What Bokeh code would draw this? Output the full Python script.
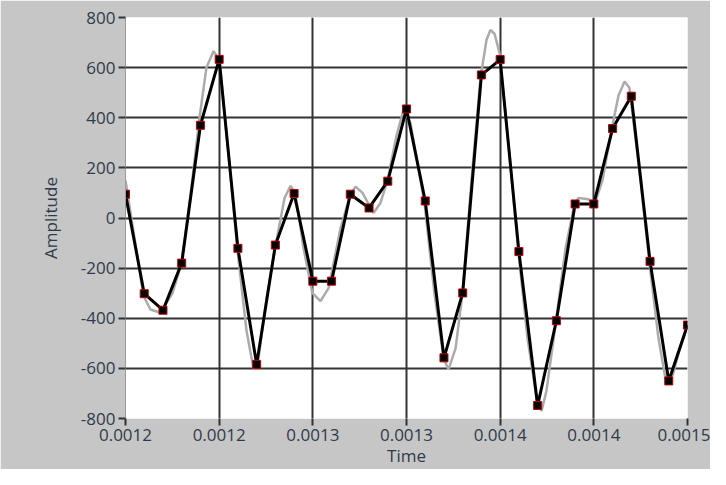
from bokeh.plotting import figure
from bokeh.models import FixedTicker, Range1d
from bokeh.embed import file_html
from bokeh.resources import INLINE

# Sampled signal (black line with markers)
time_s = [0.0012 + i * 0.00001 for i in range(31)]
amplitude = [95, -302, -368, -180, 370, 633, -121, -584, -108, 98,
             -252, -252, 95, 40, 147, 435, 68, -558, -299, 571,
             632, -134, -748, -410, 56, 56, 357, 486, -173, -650, -427]

# Underlying continuous signal (gray line), read at its turning points
time_c = [0.0012, 0.0012096, 0.0012133, 0.0012187, 0.0012251, 0.0012299,
          0.0012347, 0.0012395, 0.0012432, 0.0012470, 0.0012502, 0.0012550,
          0.0012598, 0.0012646, 0.0012683, 0.0012710, 0.0012753, 0.0012801,
          0.0012849, 0.0012881, 0.0012907, 0.0012950, 0.0012998, 0.0013041,
          0.0013084, 0.0013148, 0.0013201, 0.0013228, 0.0013265, 0.0013324,
          0.0013361, 0.0013399, 0.0013447, 0.0013484, 0.0013521, 0.0013596,
          0.0013649, 0.0013698, 0.0013724, 0.0013762, 0.0013799, 0.0013847,
          0.0013895, 0.0013927, 0.0013948, 0.0013970, 0.0013996, 0.0014050,
          0.0014098, 0.0014146, 0.0014199, 0.0014221, 0.0014247, 0.0014295,
          0.0014349, 0.0014397, 0.0014418, 0.0014472, 0.0014504, 0.0014546,
          0.0014594, 0.0014632, 0.0014664, 0.0014690, 0.0014749, 0.0014797,
          0.0014845, 0.0014888, 0.0014920, 0.0014952, 0.0015]
amplitude_c = [150, -310, -365, -378, -300, -180,
               90, 400, 600, 666, 630, 250,
               -130, -450, -600, -560, -320, -110,
               80, 128, 100, -120, -300, -332,
               -280, -40, 95, 125, 100, 20,
               60, 150, 330, 432, 380, 60,
               -300, -560, -605, -520, -300, 150,
               560, 710, 750, 735, 660, 250,
               -140, -480, -740, -770, -690, -430,
               -120, 55, 80, 75, 55, 150,
               350, 490, 545, 520, 150, -180,
               -480, -665, -630, -540, -430]

x_ticks = [0.0012, 0.00125, 0.0013, 0.00135, 0.0014, 0.00145, 0.0015]
x_tick_labels = ["0.0012", "0.0012", "0.0013", "0.0013", "0.0014", "0.0014", "0.0015"]
y_ticks = [-800, -600, -400, -200, 0, 200, 400, 600, 800]
y_tick_labels = ["-800", "-600", "-400", "-200", "0", "200", "400", "600", "800"]

FONT = "Open Sans"
LABEL_COLOR = "#2f3b4a"

p = figure(width=710, height=469, output_backend="svg", toolbar_location=None,
           x_range=Range1d(0.0012, 0.0015), y_range=Range1d(-800, 800),
           min_border_left=125, min_border_right=23, min_border_top=17,
           min_border_bottom=50)

p.background_fill_color = "white"
p.border_fill_color = "#c6c6c6"
p.outline_line_color = None

p.xaxis.ticker = FixedTicker(ticks=x_ticks)
p.xaxis.major_label_overrides = {t: l for t, l in zip(x_ticks, x_tick_labels)}
p.yaxis.ticker = FixedTicker(ticks=y_ticks)
p.yaxis.major_label_overrides = {t: l for t, l in zip(y_ticks, y_tick_labels)}

for ax in (p.xaxis[0], p.yaxis[0]):
    ax.major_label_text_font = FONT
    ax.major_label_text_font_size = "17px"
    ax.major_label_text_color = LABEL_COLOR
    ax.axis_label_text_font = FONT
    ax.axis_label_text_font_size = "17px"
    ax.axis_label_text_font_style = "normal"
    ax.axis_label_text_color = LABEL_COLOR
    ax.major_tick_in = 0
    ax.major_tick_out = 7
    ax.major_tick_line_color = "#333333"
    ax.major_tick_line_width = 2
    ax.minor_tick_line_color = None
    ax.major_label_standoff = 3

p.xaxis.axis_label = "Time"
p.yaxis.axis_label = "Amplitude"
p.xaxis.axis_line_color = None
p.yaxis.axis_line_color = "#9a9a9a"
p.xaxis.axis_label_standoff = 0
p.yaxis.axis_label_standoff = 16

p.grid.grid_line_color = "#333333"
p.grid.grid_line_width = 2
p.grid.grid_line_alpha = 1.0

p.line(time_c, amplitude_c, line_color="#ababab", line_width=2.5)
p.line(time_s, amplitude, line_color="black", line_width=3)
p.scatter(time_s, amplitude, marker="square", size=8, fill_color="black",
          line_color="#c00000", line_width=1)

open("out.html", "w").write(file_html(p, INLINE))
